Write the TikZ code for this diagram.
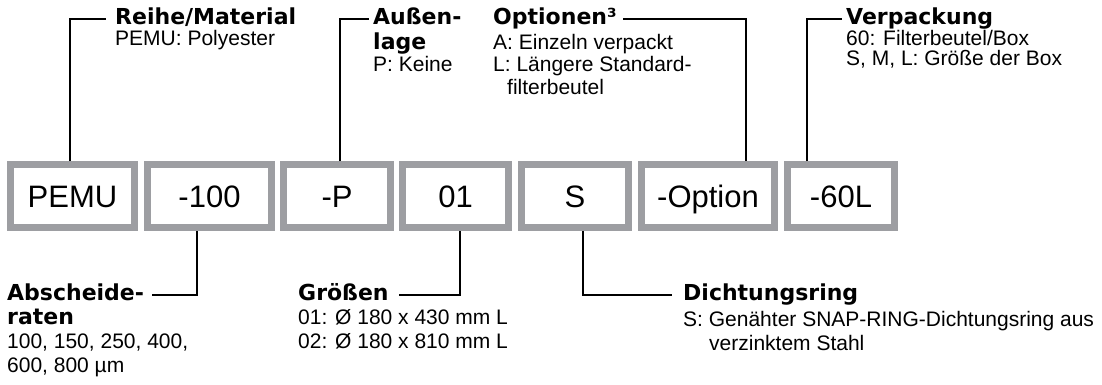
\documentclass[tikz,border=0pt]{standalone}
\usepackage{fontspec}
\setmainfont{Liberation Sans}
\newfontfamily\headfont{DejaVu Sans}
\definecolor{boxgray}{RGB}{157,158,162}
\tikzset{
  codebox/.style={draw=boxgray, line width=7pt, outer sep=3.5pt, inner sep=0pt,
    minimum height=63pt, text height=22pt, text depth=0pt,
    font=\fontsize{31}{31}\selectfont},
  head/.style={anchor=base west, inner sep=0pt, font=\headfont\bfseries\fontsize{22}{22}\selectfont},
  body/.style={anchor=base west, inner sep=0pt, font=\fontsize{21}{21}\selectfont},
  lead/.style={line width=2.6pt}
}
\begin{document}
\begin{tikzpicture}[x=1pt, y=-1pt]
\useasboundingbox (0,0) rectangle (1102,385);

% code boxes
\foreach \n/\x/\w/\t in {pemu/72.5/124/PEMU, rate/209.5/124/-100, layer/337/107/-P,
  size/455.5/106/01, ring/575/107/S, option/708/133/-Option, pack/841/107/-60L}
{
  \node[codebox, minimum width=\w pt] (\n) at (\x,196) {\t};
}

% top labels
\node[head] (reihe) at (115,25) {Reihe/Material};
\node[body] (reihe-1) at (115,46) {PEMU: Polyester};

\node[head] (aussen) at (373,25) {Außen-};
\node[head] (aussen-2) at (373,50) {lage};
\node[body] (aussen-1) at (373,72) {P: Keine};

\node[head] (opt) at (493,25) {Optionen³};
\node[body] (opt-1) at (493,50) {A: Einzeln verpackt};
\node[body] (opt-2) at (493,72) {L: Längere Standard-};
\node[body] (opt-3) at (507,95) {filterbeutel};

\node[head] (verp) at (846,25) {Verpackung};
\node[body] (verp-1) at (846,46) {60: Filterbeutel/Box};
\node[body] (verp-2) at (846,66) {S, M, L: Größe der Box};

% bottom labels
\node[head] (absch) at (7,300) {Abscheide-};
\node[head] (absch-2) at (7,324) {raten};
\node[body] (absch-1) at (7,348) {100, 150, 250, 400,};
\node[body] (absch-3) at (7,372) {600, 800 µm};

\node[head] (groesse) at (298,300) {Größen};
\node[body] (groesse-1) at (298,324) {01: Ø 180 x 430 mm L};
\node[body] (groesse-2) at (298,348) {02: Ø 180 x 810 mm L};

\node[head] (dicht) at (683,300) {Dichtungsring};
\node[body] (dicht-1) at (683,326) {S: Genähter SNAP-RING-Dichtungsring aus};
\node[body] (dicht-2) at (709,350) {verzinktem Stahl};

% leader lines
\draw[lead] ([xshift=-2.5pt]pemu.north) |- ([xshift=-9pt,yshift=6pt]reihe.base west);
\draw[lead] ([xshift=3pt]layer.north) |- ([xshift=-4pt,yshift=6pt]aussen.base west);
\draw[lead] ([xshift=38pt]option.north) |- ([xshift=6pt,yshift=6pt]opt.base east);
\draw[lead] ([xshift=-34pt]pack.north) |- ([xshift=-4pt,yshift=6pt]verp.base west);

\draw[lead] ([xshift=-12.5pt]rate.south) |- ([xshift=8pt,yshift=5pt]absch.base east);
\draw[lead] ([xshift=4.5pt]size.south) |- ([xshift=10pt,yshift=5pt]groesse.base east);
\draw[lead] ([xshift=8pt]ring.south) |- ([xshift=-11pt,yshift=5pt]dicht.base west);

\end{tikzpicture}
\end{document}
